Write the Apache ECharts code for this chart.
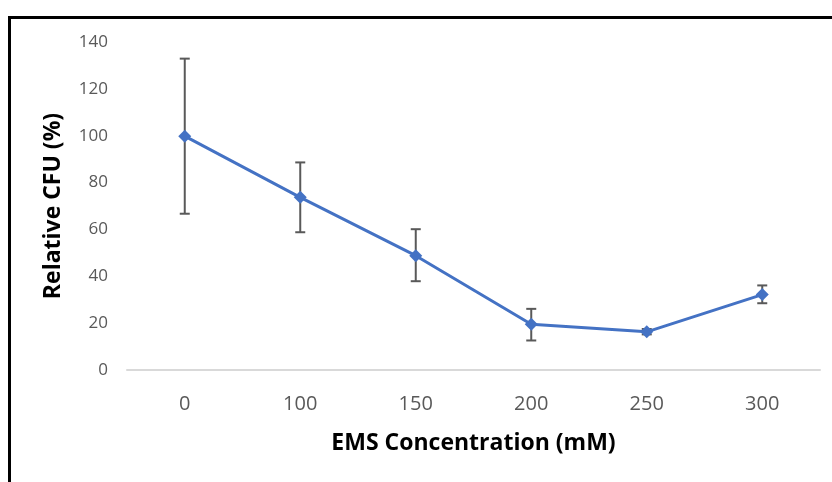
<!DOCTYPE html>
<html>
<head>
<meta charset="utf-8">
<script src="https://cdn.jsdelivr.net/npm/echarts@6/dist/echarts.min.js"></script>
<style>
    html, body { margin: 0; padding: 0; background: #fff; }
    #chart { width: 832px; height: 482px; }
</style>
</head>
<body>
<div id="chart"></div>
<script>
    // EMS concentration (mM)
    const categories = ['0', '100', '150', '200', '250', '300'];
    // mean relative CFU (%)
    const cfuMean = [99.8, 73.7, 48.8, 19.5, 16.3, 32.2];
    // error bar ends
    const errLow = [66.7, 58.8, 37.9, 12.6, 15.2, 28.5];
    const errHigh = [132.9, 88.6, 60.1, 26.1, 17.5, 36.1];

    const errData = categories.map(function (c, i) {
        return [i, errLow[i], errHigh[i]];
    });

    const chart = echarts.init(document.getElementById('chart'));

    chart.setOption({
        animation: false,
        grid: {
            left: 127,
            right: 12,
            top: 42,
            bottom: 112,
            containLabel: false
        },
        graphic: [
            // picture frame
            { type: 'rect', shape: { x: 8, y: 16, width: 824, height: 3 }, style: { fill: '#000' } },
            { type: 'rect', shape: { x: 8, y: 16, width: 3, height: 466 }, style: { fill: '#000' } }
        ],
        xAxis: {
            type: 'category',
            data: categories,
            name: 'EMS Concentration (mM)',
            nameLocation: 'middle',
            nameGap: 62,
            nameTextStyle: {
                fontFamily: 'Open Sans',
                fontWeight: 'bold',
                fontSize: 23,
                color: '#000'
            },
            axisLine: { lineStyle: { color: '#d9d9d9', width: 2 } },
            axisTick: { show: false },
            axisLabel: {
                margin: 24,
                fontFamily: 'Open Sans',
                fontSize: 20,
                color: '#595959'
            }
        },
        yAxis: {
            type: 'value',
            min: 0,
            max: 140,
            interval: 20,
            name: 'Relative CFU (%)',
            nameLocation: 'middle',
            nameGap: 62,
            nameTextStyle: {
                fontFamily: 'Open Sans',
                fontWeight: 'bold',
                fontSize: 23,
                color: '#000'
            },
            axisLine: { show: false },
            axisTick: { show: false },
            splitLine: { show: false },
            axisLabel: {
                margin: 19,
                fontFamily: 'Open Sans',
                fontSize: 17,
                color: '#595959'
            }
        },
        series: [
            {
                type: 'custom',
                name: 'error',
                z: 1,
                data: errData,
                renderItem: function (params, api) {
                    const idx = api.value(0);
                    const top = api.coord([idx, api.value(2)]);
                    const bot = api.coord([idx, api.value(1)]);
                    const hw = 5;
                    const style = { stroke: '#595959', lineWidth: 2, fill: null };
                    return {
                        type: 'group',
                        children: [
                            { type: 'line', shape: { x1: top[0], y1: top[1], x2: bot[0], y2: bot[1] }, style: style },
                            { type: 'line', shape: { x1: top[0] - hw, y1: top[1], x2: top[0] + hw, y2: top[1] }, style: style },
                            { type: 'line', shape: { x1: bot[0] - hw, y1: bot[1], x2: bot[0] + hw, y2: bot[1] }, style: style }
                        ]
                    };
                }
            },
            {
                type: 'line',
                name: 'Relative CFU',
                z: 2,
                data: cfuMean,
                symbol: 'diamond',
                symbolSize: 13,
                lineStyle: { color: '#4472c4', width: 3 },
                itemStyle: { color: '#4472c4' }
            }
        ]
    });
</script>
</body>
</html>
